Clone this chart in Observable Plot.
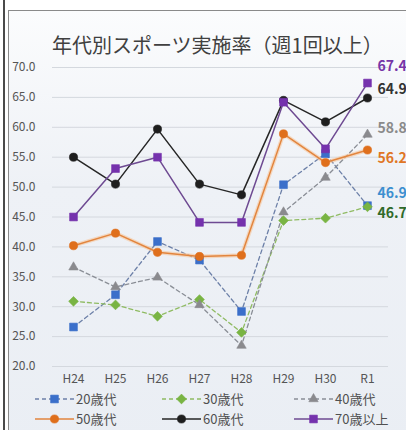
<!DOCTYPE html>
<html lang="ja">
<head>
<meta charset="utf-8">
<script src="https://cdn.jsdelivr.net/npm/d3@7"></script>
<script src="https://cdn.jsdelivr.net/npm/@observablehq/plot@0.6"></script>
<style>
  html, body { margin: 0; padding: 0; background: #fff; }
  #stage { position: relative; width: 406px; height: 430px; overflow: hidden; font-family: "Noto Sans CJK JP", "Noto Sans", sans-serif; }
  #rule { position: absolute; left: 3px; top: 0; width: 2px; height: 430px; background: #4a4a4a; }
  #panel { position: absolute; left: 8px; top: 10px; width: 440px; height: 440px; border: 1px solid #8a8a8a;
           background: linear-gradient(#fbfcfd, #eef1f6 40%, #eaeef4); }
  #title { position: absolute; left: 52px; top: 31px; font-size: 20px; line-height: 28px; color: #404040; white-space: nowrap; }
  #chart { position: absolute; left: 0; top: 0; }
  .item { position: absolute; display: flex; align-items: center; height: 16px; line-height: 16px; font-size: 13px; color: #505050; white-space: nowrap; }
  .item svg { display: block; margin-right: 2px; }
</style>
</head>
<body>
<div id="stage">
  <div id="rule"></div>
  <div id="panel"></div>
  <div id="title">年代別スポーツ実施率（週1回以上）</div>
  <div id="chart"></div>
  <div id="legend"></div>
</div>
<script>
// Survey years (Heisei 24 – Reiwa 1)
const periods = ["H24", "H25", "H26", "H27", "H28", "H29", "H30", "R1"];

// Weekly sports participation rate (%) by age group
const age20 = [26.6, 32.0, 40.9, 37.8, 29.2, 50.4, 55.6, 46.9];
const age30 = [30.9, 30.3, 28.4, 31.2, 25.7, 44.4, 44.8, 46.7];
const age40 = [36.6, 33.3, 34.9, 30.3, 23.5, 45.8, 51.6, 58.8];
const age50 = [40.2, 42.3, 39.1, 38.4, 38.6, 58.9, 54.1, 56.2];
const age60 = [55.0, 50.5, 59.7, 50.5, 48.7, 64.5, 60.9, 64.9];
const age70 = [45.0, 53.1, 55.0, 44.1, 44.1, 64.2, 56.4, 67.4];

const groupNames = ["20歳代", "30歳代", "40歳代", "50歳代", "60歳代", "70歳以上"];
const groupValues = [age20, age30, age40, age50, age60, age70];

// y-axis ticks
const yTicks = [20, 25, 30, 35, 40, 45, 50, 55, 60, 65, 70];

// Drawing styles per age group
const styles = [
  {line: "#6d80a8", dot: "#3b6fca", symbol: "square",   dash: "4,3", label: "#3c8fd0", dy: -12},
  {line: "#8fbb62", dot: "#79b443", symbol: "diamond2", dash: "4,3", label: "#2f6a2a", dy: 7},
  {line: "#8a8e96", dot: "#8a8a8e", symbol: "triangle", dash: "4,3", label: "#8a8a8a", dy: -6},
  {line: "#e2853e", dot: "#df6f1c", symbol: "circle",   dash: null,  label: "#e07624", dy: 8},
  {line: "#262626", dot: "#1e1e1e", symbol: "circle",   dash: null,  label: "#333333", dy: -8},
  {line: "#6e4a92", dot: "#7532ad", symbol: "square",   dash: null,  label: "#7636a8", dy: -17}
];
const dotR = {square: 4.4, diamond2: 4.4, triangle: 3.5, circle: 4.1};

const table = groupNames.map((g, i) => periods.map((p, j) => ({period: p, group: g, value: groupValues[i][j]})));

const marks = [
  Plot.ruleY(yTicks, {stroke: "#d4d8de", strokeWidth: 1}),
  Plot.axisY(yTicks, {tickSize: 0, tickPadding: 17, tickFormat: d3.format(".1f"), fontSize: 12, color: "#555", label: null}),
  Plot.axisX({tickSize: 0, tickPadding: 8, fontSize: 12, color: "#555", label: null})
];

table.forEach((rows, i) => {
  const s = styles[i];
  if (i === 3) marks.push(Plot.lineY(rows, {x: "period", y: "value", stroke: "#f6c69c", strokeWidth: 4, strokeOpacity: 0.6}));
  marks.push(Plot.lineY(rows, {x: "period", y: "value", stroke: s.line, strokeWidth: s.dash ? 1.3 : 1.5, strokeDasharray: s.dash}));
});
table.forEach((rows, i) => {
  const s = styles[i];
  marks.push(Plot.dot(rows, {x: "period", y: "value", symbol: () => s.symbol, r: dotR[s.symbol], fill: s.dot, stroke: s.dot, strokeWidth: 0.6}));
});
table.forEach((rows, i) => {
  const s = styles[i];
  const last = rows[rows.length - 1];
  marks.push(Plot.text([last], {x: "period", y: "value", text: d => d.value.toFixed(1), dx: 10, dy: s.dy,
    textAnchor: "start", fill: s.label, fontSize: 14, fontWeight: "bold"}));
});

const chart = Plot.plot({
  width: 406,
  height: 385,
  marginTop: 67,
  marginBottom: 19,
  marginLeft: 52,
  marginRight: 18,
  style: {background: "transparent", fontFamily: "'Noto Sans CJK JP', 'Noto Sans', sans-serif"},
  x: {type: "point", domain: periods, padding: 0.47},
  y: {domain: [20, 70]},
  symbol: {type: "identity"},
  marks
});
document.getElementById("chart").appendChild(chart);

// Legend: two rows of three entries
const legend = document.getElementById("legend");
const legendPos = [[35, 399], [162, 399], [294, 399], [35, 419], [162, 419], [294, 419]];
groupNames.forEach((g, i) => {
  const s = styles[i];
  const item = document.createElement("div");
  item.className = "item";
  item.style.left = legendPos[i][0] + "px";
  item.style.top = (legendPos[i][1] - 8) + "px";
  const svg = d3.create("svg").attr("width", 39).attr("height", 16);
  svg.append("line").attr("x1", 0).attr("x2", 39).attr("y1", 8).attr("y2", 8)
    .attr("stroke", s.line).attr("stroke-width", s.dash ? 1.3 : 1.5).attr("stroke-dasharray", s.dash);
  const sym = {square: d3.symbolSquare, diamond2: d3.symbolDiamond2, triangle: d3.symbolTriangle, circle: d3.symbolCircle}[s.symbol];
  const r = dotR[s.symbol];
  svg.append("path").attr("transform", "translate(19.5,8)")
    .attr("d", d3.symbol(sym, Math.PI * r * r)())
    .attr("fill", s.dot).attr("stroke", s.dot).attr("stroke-width", 0.6);
  item.appendChild(svg.node());
  const span = document.createElement("span");
  span.textContent = g;
  item.appendChild(span);
  legend.appendChild(item);
});
</script>
</body>
</html>
